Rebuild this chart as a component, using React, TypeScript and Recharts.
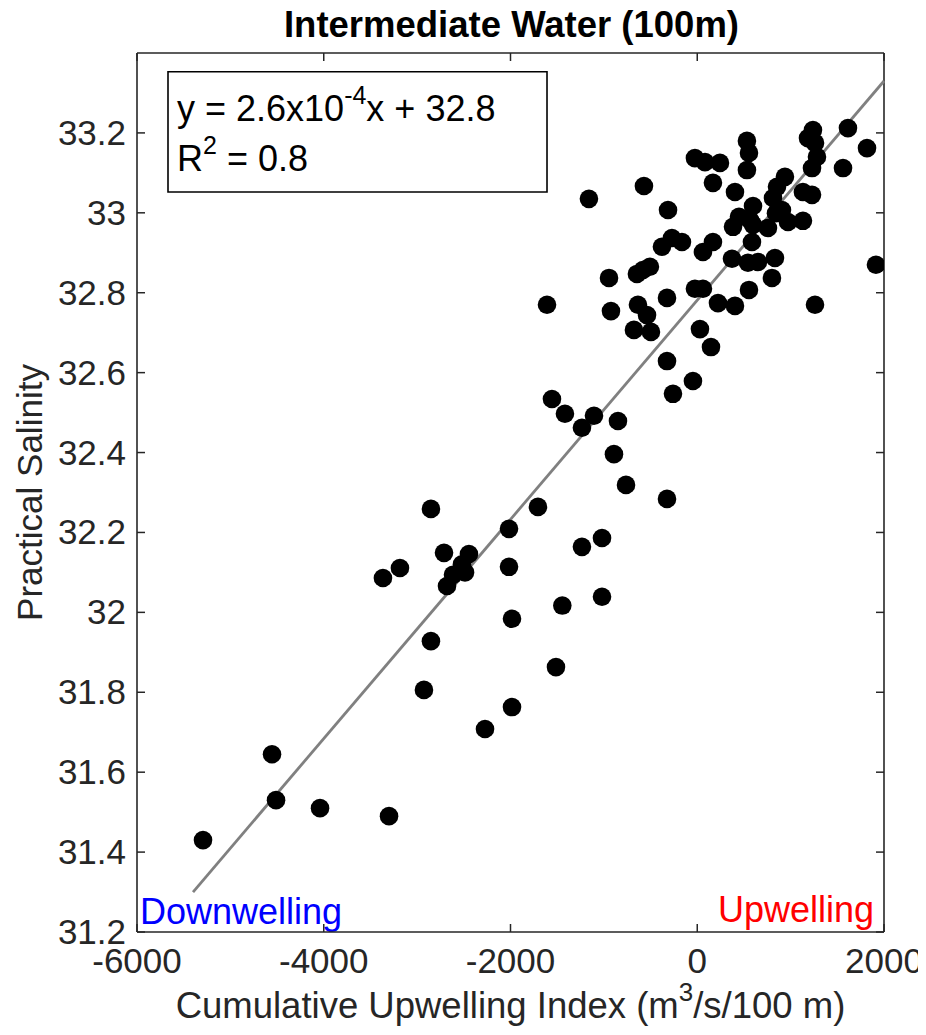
import React from 'react';
import { ScatterChart, Scatter, XAxis, YAxis, ReferenceLine, ReferenceArea, Label } from 'recharts';

// ---- data ----
const upwellingIndex = [
  -5293, -4554, -4511, -4040, -3301, -2273, -2852, -3366, -3184, -2712,
  -2445, -2680, -2616, -2487, -2520, -2852, -2927, -2016, -2016, -1984,
  -1984, -1706, -1445, -1513, -1556, -1417, -1106, -1235, -849, -892,
  -763, -324, -324, -260, -46, -1235, -1020, -1020,
  -1609, -945, -924, -635, -538, -678, -496, -324, -646, -507,
  -582, -378, -271, -164, -25, 61, 61, 168, 222, 404,
  554, 29, 147, 372, 543, 650, 832, 800, 1261, 1914,
  383, 597, 757, 586, 972, 1132,
  -1160, -571, -313, -25, 83, 243, 168, 404, 532, 554,
  532, 597, 447, 843, 854, 939, 811, 1229, 1132, 1239,
  1186, 1261, 1282, 1229, 1561, 1614, 1818, 907, 565,
];
const salinity = [
  31.43, 31.645, 31.53, 31.51, 31.49, 31.708, 32.259, 32.086, 32.111, 32.149,
  32.146, 32.066, 32.094, 32.1, 32.12, 31.928, 31.806, 32.209, 32.114, 31.984,
  31.763, 32.264, 32.017, 31.863, 32.534, 32.497, 32.492, 32.462, 32.479, 32.396,
  32.319, 32.284, 32.629, 32.547, 32.579, 32.164, 32.186, 32.039,
  32.77, 32.837, 32.754, 32.77, 32.744, 32.707, 32.702, 32.787, 32.847, 32.865,
  32.857, 32.915, 32.937, 32.927, 32.81, 32.81, 32.902, 32.927, 32.774, 32.767,
  32.807, 32.709, 32.664, 32.885, 32.875, 32.877, 32.887, 32.837, 32.77, 32.87,
  32.965, 32.97, 32.962, 32.927, 32.977, 32.98,
  33.035, 33.067, 33.007, 33.137, 33.127, 33.125, 33.075, 33.052, 33.18, 33.15,
  33.107, 33.017, 32.99, 32.999, 33.065, 33.09, 33.037, 33.045, 33.052, 33.207,
  33.187, 33.175, 33.14, 33.112, 33.112, 33.212, 33.162, 33.007, 32.982,
];
const xTicks = [-6000, -4000, -2000, 0, 2000];
const yTicks = [31.2, 31.4, 31.6, 31.8, 32, 32.2, 32.4, 32.6, 32.8, 33, 33.2];
const xDomain = [-6000, 2000];
const yDomain = [31.2, 33.4];
const fitX = [-5400, 2000];
const fitY = [31.3, 33.33];
const boxX = [-5668, -1609];
const boxY = [33.052, 33.353];

const points = upwellingIndex.map((x, i) => ({ x, y: salinity[i] }));
const fitSegment = fitX.map((x, i) => ({ x, y: fitY[i] }));

// ---- layout / style (svg placed at page origin) ----
const W = 926;
const H = 1035;
const LEFT = 137;
const TOP = 53;
const RIGHT = 884;
const BOTTOM = 932;
const AX = '#262626';
const FONT = '"Liberation Sans", Arial, Helvetica, sans-serif';
const FS = 35;

const fmtY = (v: number) => String(Number(v.toFixed(1)));

const XTick = (props: any) => {
  const { x, y, payload } = props;
  return (
    <g>
      <line x1={x} x2={x} y1={y} y2={y - 8} stroke={AX} strokeWidth={1.5} />
      <line x1={x} x2={x} y1={TOP} y2={TOP + 8} stroke={AX} strokeWidth={1.5} />
      <text x={x} y={y + 41} textAnchor="middle" fontSize={FS} fill={AX} fontFamily={FONT}>
        {payload.value}
      </text>
    </g>
  );
};

const YTick = (props: any) => {
  const { x, y, payload } = props;
  return (
    <g>
      <line x1={x} x2={x + 8} y1={y} y2={y} stroke={AX} strokeWidth={1.5} />
      <line x1={RIGHT} x2={RIGHT - 8} y1={y} y2={y} stroke={AX} strokeWidth={1.5} />
      <text x={x - 11} y={y + 12} textAnchor="end" fontSize={FS} fill={AX} fontFamily={FONT}>
        {fmtY(payload.value)}
      </text>
    </g>
  );
};

const Dot = (props: any) => <circle cx={props.cx} cy={props.cy} r={9.3} fill="#000" />;

const XLabel = (props: any) => {
  const vb = props.viewBox;
  return (
    <text x={vb.x + vb.width / 2} y={vb.y + 86} textAnchor="middle" fontSize={36.5} fill={AX} fontFamily={FONT}>
      Cumulative Upwelling Index (m
      <tspan dy={-17} fontSize={26}>3</tspan>
      <tspan dy={17} fontSize={36.5}>/s/100 m)</tspan>
    </text>
  );
};

const YLabel = (props: any) => {
  const vb = props.viewBox;
  const cx = 42;
  const cy = vb.y + vb.height / 2;
  return (
    <text x={cx} y={cy} transform={`rotate(-90, ${cx}, ${cy})`} textAnchor="middle" fontSize={FS} fill={AX} fontFamily={FONT}>
      Practical Salinity
    </text>
  );
};

const BoxText = (props: any) => {
  const vb = props.viewBox;
  const x0 = vb.x + 9;
  return (
    <g fontFamily={FONT} fill="#000">
      <text x={x0} y={vb.y + 49} fontSize={36}>
        y = 2.6x10
        <tspan dy={-17} fontSize={25}>-4</tspan>
        <tspan dy={17} fontSize={36}>x + 32.8</tspan>
      </text>
      <text x={x0} y={vb.y + 99} fontSize={36}>
        R
        <tspan dy={-17} fontSize={25}>2</tspan>
        <tspan dy={17} fontSize={36}>{' = 0.8'}</tspan>
      </text>
    </g>
  );
};

const FrameText = (props: any) => {
  const vb = props.viewBox;
  return (
    <g fontFamily={FONT}>
      <text x={vb.x + vb.width / 2 + 1} y={vb.y - 16} textAnchor="middle" fontSize={36.5} fontWeight="bold" fill="#000">
        Intermediate Water (100m)
      </text>
      <text x={vb.x + 3} y={vb.y + vb.height - 8} fontSize={36} fill="#0000ff">
        Downwelling
      </text>
      <text x={vb.x + vb.width - 10} y={vb.y + vb.height - 10} textAnchor="end" fontSize={36} fill="#ff0000">
        Upwelling
      </text>
    </g>
  );
};

export default function App() {
  return (
    <div style={{ width: W, height: H, background: '#fff', margin: '-8px 0 0 -8px' }}>
      <ScatterChart width={W} height={H} margin={{ top: TOP, right: W - RIGHT, bottom: 0, left: 0 }}>
        <XAxis
          type="number"
          dataKey="x"
          domain={xDomain}
          ticks={xTicks}
          interval={0}
          allowDataOverflow
          height={H - BOTTOM}
          tickLine={false}
          tickSize={0}
          tickMargin={0}
          tick={<XTick />}
          axisLine={{ stroke: AX, strokeWidth: 1.6 }}
          label={<Label content={<XLabel />} />}
        />
        <YAxis
          type="number"
          dataKey="y"
          domain={yDomain}
          ticks={yTicks}
          interval={0}
          allowDataOverflow
          width={LEFT}
          tickLine={false}
          tickSize={0}
          tickMargin={0}
          tick={<YTick />}
          axisLine={{ stroke: AX, strokeWidth: 1.6 }}
          label={<Label content={<YLabel />} />}
        />
        <ReferenceArea x1={xDomain[0]} x2={xDomain[1]} y1={yDomain[0]} y2={yDomain[1]} fill="none" stroke="none">
          <Label content={<FrameText />} />
        </ReferenceArea>
        <ReferenceLine y={yDomain[1]} stroke={AX} strokeWidth={1.6} />
        <ReferenceLine x={xDomain[1]} stroke={AX} strokeWidth={1.6} />
        <ReferenceArea x1={boxX[0]} x2={boxX[1]} y1={boxY[0]} y2={boxY[1]} fill="#fff" fillOpacity={1} stroke="#000" strokeWidth={1.6}>
          <Label content={<BoxText />} />
        </ReferenceArea>
        <ReferenceLine segment={fitSegment} stroke="#808080" strokeWidth={2.8} ifOverflow="visible" />
        <Scatter data={points} shape={<Dot />} isAnimationActive={false} />
      </ScatterChart>
    </div>
  );
}
